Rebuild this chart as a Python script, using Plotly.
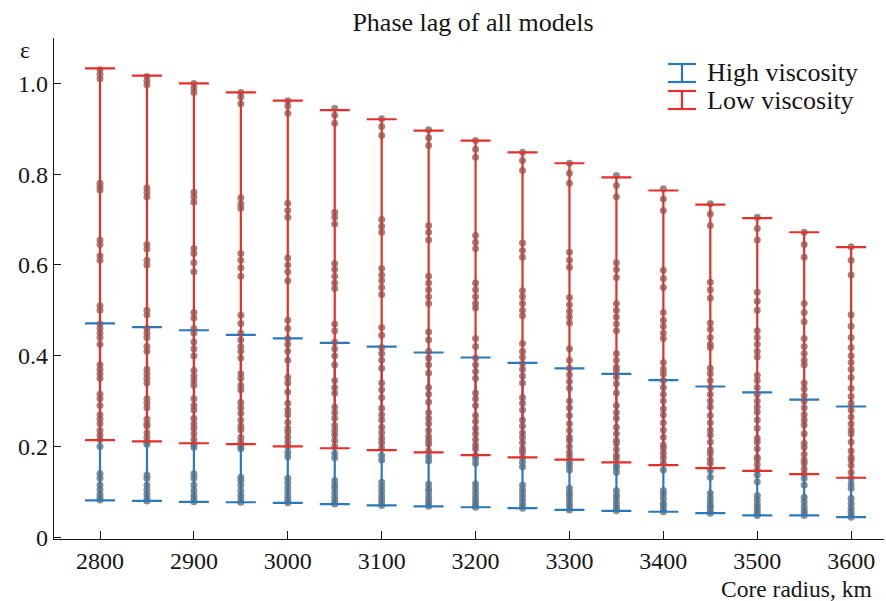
import plotly.graph_objects as go

radius = [2800, 2850, 2900, 2950, 3000, 3050, 3100, 3150, 3200,
          3250, 3300, 3350, 3400, 3450, 3500, 3550, 3600]

high_min = [0.081, 0.080, 0.078, 0.077, 0.0755, 0.073, 0.070, 0.068, 0.066,
            0.064, 0.060, 0.058, 0.056, 0.053, 0.048, 0.048, 0.044]
high_max = [0.471, 0.463, 0.456, 0.446, 0.438, 0.428, 0.420, 0.407, 0.396,
            0.384, 0.372, 0.360, 0.346, 0.332, 0.319, 0.303, 0.288]
low_min = [0.214, 0.211, 0.207, 0.205, 0.200, 0.196, 0.192, 0.187, 0.181,
           0.176, 0.171, 0.165, 0.159, 0.152, 0.146, 0.139, 0.131]
low_max = [1.033, 1.017, 1.000, 0.980, 0.962, 0.941, 0.921, 0.896, 0.874,
           0.848, 0.824, 0.793, 0.764, 0.733, 0.703, 0.672, 0.639]

eps_2800 = [1.03, 1.02, 1.01, 0.78, 0.772, 0.765, 0.655, 0.645, 0.62, 0.61, 0.51, 0.50,
            0.47, 0.46, 0.45, 0.44, 0.425, 0.38, 0.37, 0.36, 0.35, 0.315, 0.305, 0.29,
            0.27, 0.26, 0.25, 0.235, 0.225, 0.215, 0.20, 0.14, 0.13, 0.115, 0.105,
            0.095, 0.088, 0.082]
eps_2850 = [1.015, 1.005, 0.997, 0.77, 0.76, 0.75, 0.645, 0.635, 0.61, 0.60, 0.50, 0.49,
            0.46, 0.45, 0.44, 0.42, 0.41, 0.37, 0.36, 0.35, 0.34, 0.305, 0.295, 0.285,
            0.26, 0.25, 0.245, 0.23, 0.22, 0.21, 0.205, 0.137, 0.13, 0.115, 0.105,
            0.095, 0.087, 0.08]
eps_2900 = [1.0, 0.99, 0.98, 0.76, 0.75, 0.738, 0.636, 0.625, 0.605, 0.585, 0.495, 0.483,
            0.46, 0.45, 0.43, 0.415, 0.40, 0.368, 0.355, 0.345, 0.335, 0.305, 0.29, 0.28,
            0.262, 0.25, 0.24, 0.228, 0.215, 0.205, 0.198, 0.14, 0.13, 0.115, 0.103,
            0.093, 0.085, 0.078]
eps_2950 = [0.98, 0.97, 0.955, 0.748, 0.735, 0.725, 0.625, 0.61, 0.594, 0.575, 0.489, 0.471,
            0.45, 0.435, 0.42, 0.41, 0.395, 0.36, 0.35, 0.335, 0.325, 0.297, 0.285, 0.273,
            0.258, 0.245, 0.237, 0.22, 0.21, 0.20, 0.195, 0.132, 0.125, 0.115, 0.103,
            0.093, 0.085, 0.077]
eps_3000 = [0.962, 0.95, 0.934, 0.736, 0.72, 0.705, 0.615, 0.60, 0.585, 0.565, 0.478, 0.46,
            0.438, 0.425, 0.41, 0.39, 0.352, 0.34, 0.32, 0.295, 0.28, 0.27, 0.253, 0.24,
            0.232, 0.22, 0.21, 0.20, 0.187, 0.177, 0.13, 0.12, 0.11, 0.10, 0.09, 0.082,
            0.076]
eps_3050 = [0.945, 0.93, 0.912, 0.716, 0.705, 0.69, 0.603, 0.59, 0.575, 0.56, 0.548, 0.47,
            0.455, 0.43, 0.415, 0.40, 0.38, 0.345, 0.33, 0.317, 0.287, 0.275, 0.262, 0.246,
            0.235, 0.225, 0.213, 0.20, 0.185, 0.175, 0.125, 0.115, 0.108, 0.098, 0.088,
            0.08, 0.073]
eps_3100 = [0.922, 0.905, 0.885, 0.70, 0.685, 0.672, 0.592, 0.578, 0.565, 0.55, 0.535, 0.462,
            0.445, 0.418, 0.405, 0.39, 0.372, 0.34, 0.325, 0.308, 0.284, 0.27, 0.258, 0.242,
            0.23, 0.218, 0.208, 0.196, 0.18, 0.17, 0.121, 0.111, 0.103, 0.093, 0.085,
            0.077, 0.07]
eps_3150 = [0.898, 0.88, 0.863, 0.687, 0.672, 0.655, 0.575, 0.56, 0.545, 0.53, 0.515, 0.452,
            0.435, 0.41, 0.395, 0.38, 0.362, 0.33, 0.315, 0.298, 0.275, 0.262, 0.25, 0.235,
            0.222, 0.213, 0.205, 0.19, 0.178, 0.168, 0.117, 0.107, 0.10, 0.09, 0.082,
            0.074, 0.068]
eps_3200 = [0.874, 0.855, 0.837, 0.665, 0.65, 0.636, 0.56, 0.545, 0.53, 0.515, 0.505, 0.438,
            0.42, 0.395, 0.38, 0.365, 0.35, 0.318, 0.305, 0.29, 0.268, 0.255, 0.24, 0.228,
            0.215, 0.203, 0.195, 0.18, 0.173, 0.163, 0.118, 0.108, 0.098, 0.088, 0.08,
            0.072, 0.066]
eps_3250 = [0.848, 0.83, 0.808, 0.648, 0.632, 0.617, 0.543, 0.53, 0.515, 0.50, 0.488, 0.427,
            0.41, 0.397, 0.383, 0.37, 0.355, 0.34, 0.308, 0.295, 0.28, 0.258, 0.245, 0.23,
            0.22, 0.208, 0.195, 0.187, 0.175, 0.165, 0.155, 0.115, 0.105, 0.096, 0.087,
            0.078, 0.07, 0.064]
eps_3300 = [0.824, 0.802, 0.78, 0.628, 0.61, 0.595, 0.528, 0.512, 0.498, 0.485, 0.472, 0.415,
            0.39, 0.372, 0.358, 0.343, 0.328, 0.30, 0.285, 0.268, 0.25, 0.235, 0.22, 0.213,
            0.20, 0.187, 0.178, 0.165, 0.158, 0.148, 0.108, 0.098, 0.092, 0.083, 0.075,
            0.068, 0.06]
eps_3350 = [0.797, 0.775, 0.75, 0.605, 0.59, 0.572, 0.515, 0.50, 0.485, 0.47, 0.455, 0.405,
            0.39, 0.375, 0.368, 0.353, 0.338, 0.318, 0.29, 0.275, 0.262, 0.242, 0.228, 0.213,
            0.207, 0.193, 0.18, 0.173, 0.158, 0.153, 0.143, 0.103, 0.093, 0.088, 0.078,
            0.07, 0.063, 0.058]
eps_3400 = [0.768, 0.745, 0.72, 0.588, 0.57, 0.55, 0.495, 0.478, 0.465, 0.45, 0.438, 0.385,
            0.37, 0.36, 0.345, 0.33, 0.315, 0.30, 0.283, 0.27, 0.252, 0.236, 0.22, 0.203,
            0.196, 0.185, 0.175, 0.163, 0.148, 0.103, 0.095, 0.085, 0.075, 0.07, 0.062,
            0.056]
eps_3450 = [0.735, 0.712, 0.687, 0.562, 0.545, 0.527, 0.472, 0.458, 0.44, 0.425, 0.418, 0.372,
            0.36, 0.345, 0.33, 0.315, 0.30, 0.287, 0.268, 0.252, 0.236, 0.225, 0.21, 0.192,
            0.185, 0.172, 0.163, 0.147, 0.132, 0.097, 0.087, 0.078, 0.07, 0.066, 0.058,
            0.053]
eps_3500 = [0.705, 0.68, 0.655, 0.54, 0.52, 0.50, 0.455, 0.44, 0.425, 0.41, 0.397, 0.357,
            0.345, 0.33, 0.315, 0.30, 0.287, 0.276, 0.258, 0.24, 0.218, 0.21, 0.195, 0.176,
            0.172, 0.16, 0.148, 0.137, 0.122, 0.092, 0.083, 0.073, 0.066, 0.06, 0.052,
            0.048]
eps_3550 = [0.672, 0.645, 0.617, 0.515, 0.495, 0.475, 0.438, 0.42, 0.405, 0.39, 0.38, 0.34,
            0.327, 0.312, 0.30, 0.285, 0.27, 0.258, 0.247, 0.228, 0.207, 0.198, 0.183, 0.17,
            0.163, 0.15, 0.14, 0.13, 0.115, 0.088, 0.078, 0.068, 0.06, 0.054, 0.048]
eps_3600 = [0.64, 0.61, 0.578, 0.49, 0.465, 0.44, 0.418, 0.40, 0.385, 0.37, 0.352, 0.328,
            0.31, 0.295, 0.28, 0.265, 0.25, 0.236, 0.228, 0.21, 0.19, 0.176, 0.17, 0.158,
            0.143, 0.13, 0.118, 0.108, 0.086, 0.075, 0.065, 0.057, 0.05, 0.044]

model_eps = [eps_2800, eps_2850, eps_2900, eps_2950, eps_3000, eps_3050, eps_3100,
             eps_3150, eps_3200, eps_3250, eps_3300, eps_3350, eps_3400, eps_3450,
             eps_3500, eps_3550, eps_3600]

x_ticks = [2800, 2900, 3000, 3100, 3200, 3300, 3400, 3500, 3600]
y_ticks = [0, 0.2, 0.4, 0.6, 0.8, 1.0]
y_tick_text = ["0", "0.2", "0.4", "0.6", "0.8", "1.0"]

BLUE = "#2a7ab9"
RED = "#e2312b"
FONT = "Liberation Serif, Times New Roman, serif"
TXT = "#161616"

dot_x, dot_y = [], []
for r, vals in zip(radius, model_eps):
    dot_x += [r] * len(vals)
    dot_y += vals

fig = go.Figure()
fig.add_trace(go.Scatter(
    x=dot_x, y=dot_y, mode="markers", showlegend=False, hoverinfo="skip",
    marker=dict(size=7, color="rgba(120,120,120,0.85)", line=dict(width=0)),
))


def bar_trace(lo, hi, color, name):
    return go.Scatter(
        x=radius, y=lo, mode="markers", name=name, showlegend=False,
        marker=dict(size=1, color="rgba(0,0,0,0)"),
        error_y=dict(type="data", symmetric=False,
                     array=[h - l for h, l in zip(hi, lo)],
                     arrayminus=[0] * len(lo),
                     color=color, thickness=2.2, width=15),
    )


fig.add_trace(bar_trace(high_min, high_max, BLUE, "High viscosity"))
fig.add_trace(bar_trace(low_min, low_max, RED, "Low viscosity"))

W, H = 886, 601
ML, MR, MT, MB = 54, 2, 38, 62
pw, ph = W - ML - MR, H - MT - MB


def px(xp):
    return (xp - ML) / pw


def py(yp):
    return (H - MB - yp) / ph


shapes = []
for color, ytop, ybot in [(BLUE, 64, 82), (RED, 91, 109)]:
    xc, hw = 682, 14
    for (x0, y0, x1, y1) in [(xc - hw, ytop, xc + hw, ytop),
                             (xc, ytop, xc, ybot),
                             (xc - hw, ybot, xc + hw, ybot)]:
        shapes.append(dict(type="line", xref="paper", yref="paper",
                           x0=px(x0), y0=py(y0), x1=px(x1), y1=py(y1),
                           line=dict(color=color, width=2.2)))

annotations = [
    dict(text="High viscosity", xref="paper", yref="paper", x=px(705), y=py(73),
         xanchor="left", yanchor="middle", showarrow=False,
         font=dict(family=FONT, size=26, color=TXT)),
    dict(text="Low viscosity", xref="paper", yref="paper", x=px(705), y=py(100),
         xanchor="left", yanchor="middle", showarrow=False,
         font=dict(family=FONT, size=26, color=TXT)),
    dict(text="ε", xref="paper", yref="paper", x=px(25), y=py(50),
         xanchor="center", yanchor="middle", showarrow=False,
         font=dict(family=FONT, size=24, color=TXT)),
    dict(text="Core radius, km", xref="paper", yref="paper", x=px(874), y=py(589),
         xanchor="right", yanchor="middle", showarrow=False,
         font=dict(family=FONT, size=23.5, color=TXT)),
]

fig.update_layout(
    width=W, height=H,
    margin=dict(l=ML, r=MR, t=MT, b=MB),
    paper_bgcolor="white", plot_bgcolor="white",
    font=dict(family=FONT, size=24, color=TXT),
    title=dict(text="Phase lag of all models", x=px(473), xref="paper",
               y=1 - 22 / H, yanchor="middle", xanchor="center",
               font=dict(family=FONT, size=26, color=TXT)),
    xaxis=dict(range=[2751, 3635], tickvals=x_ticks, ticks="inside", ticklen=8,
               tickwidth=1.3, tickcolor=TXT, showline=True, linecolor=TXT,
               linewidth=1.3, showgrid=False, zeroline=False,
               tickfont=dict(family=FONT, size=24, color=TXT)),
    yaxis=dict(range=[-0.004, 1.1], tickvals=y_ticks, ticktext=y_tick_text,
               ticks="inside", ticklen=7, tickwidth=1.3, tickcolor=TXT,
               showline=True, linecolor=TXT, linewidth=1.3, showgrid=False,
               zeroline=False, tickfont=dict(family=FONT, size=24, color=TXT)),
    shapes=shapes,
    annotations=annotations,
    showlegend=False,
)

fig.write_html("out.html",
               config={"displayModeBar": False},
               post_script="document.body.style.margin='0';"
                           "document.body.style.overflow='hidden';")
